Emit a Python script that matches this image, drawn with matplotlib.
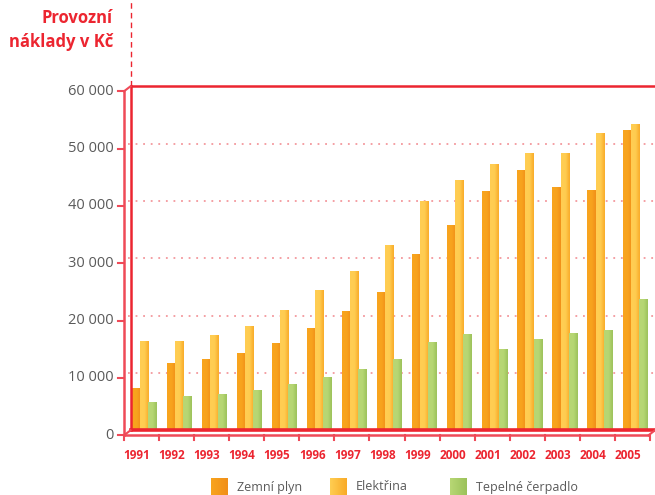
#!/usr/bin/env python3
"""Provozní náklady v Kč - pseudo 3D grouped bar chart."""

import matplotlib

matplotlib.use("Agg")
import matplotlib.pyplot as plt
import numpy as np
from matplotlib.colors import LinearSegmentedColormap
from matplotlib.lines import Line2D
from matplotlib.transforms import ScaledTranslation

years = [str(y) for y in range(1991, 2006)]
zemni_plyn = [7200, 11600, 12300, 13300, 15100, 17700, 20600, 24000, 30600,
              35600, 41600, 45200, 42300, 41700, 52200]
elektrina = [15400, 15400, 16500, 18000, 20800, 24300, 27600, 32200, 39800,
             43500, 46300, 48200, 48200, 51700, 53300]
tepelne = [4800, 5800, 6200, 6900, 7900, 9100, 10500, 12300, 15200,
           16600, 14000, 15800, 16800, 17300, 22700]
y_ticks = [0, 10000, 20000, 30000, 40000, 50000, 60000]
series_names = ["Zemní plyn", "Elektřina", "Tepelné čerpadlo"]

RED = "#ec2530"
FRONT_RED = "#ef4a58"
GRID = "#f3979c"
TEXT_GRAY = "#5a5a5a"
GRADIENTS = [
    ("#f8a41e", "#f18f19"),
    ("#ffcd52", "#f9ab28"),
    ("#b7d774", "#9cc25b"),
]

plt.rcParams["font.family"] = ["Open Sans", "DejaVu Sans"]

fig = plt.figure(figsize=(6.55, 4.95), dpi=100)
W, H = 655, 495
# back wall of the pseudo 3D box, in pixels
left_px, right_px, bottom_px, top_px = 130.5, 655, 430.3, 86.3
ax = fig.add_axes([left_px / W, 1 - bottom_px / H,
                   (right_px - left_px) / W, (bottom_px - top_px) / H])
ax.set_axis_off()

group_px = 35.07
xl = (left_px - 144) / group_px
xr = xl + (right_px - left_px) / group_px
ax.set_xlim(xl, xr)
ax.set_ylim(0, 60000)
ux = 1 / group_px                       # data x per pixel
uy = 60000 / (bottom_px - top_px)       # data y per pixel

# front plane is shifted left/down
front = ax.transData + ScaledTranslation(-0.065, -0.05, fig.dpi_scale_trans)


def grad_bar(x, h, w, c1, c2):
    cmap = LinearSegmentedColormap.from_list("g", [c1, c1, c2])
    grad = np.linspace(0, 1, 64).reshape(1, -1)
    ax.imshow(grad, cmap=cmap, aspect="auto", interpolation="bicubic",
              extent=[x - w / 2, x + w / 2, 0, h], zorder=3)


# gridlines
for v in y_ticks[1:-1]:
    ax.plot([xl - 3 * ux, xr], [v, v], color=GRID, lw=1.3, ls=(0, (1, 3.2)),
            zorder=1, clip_on=False)

# bars
x = np.arange(len(years))
width = 0.245
offsets = [-0.232, 0.0, 0.232]
for vals, off, (c1, c2) in zip([zemni_plyn, elektrina, tepelne], offsets, GRADIENTS):
    for xi, v in zip(x, vals):
        grad_bar(xi + off, v, width, c1, c2)
ax.set_xlim(xl, xr)
ax.set_ylim(0, 60000)

# back wall
ax.plot([xl, xr], [60000, 60000], color=RED, lw=1.8, clip_on=False, zorder=4)
ax.plot([xl, xl], [0, 60000], color=RED, lw=1.8, clip_on=False, zorder=4)
ax.plot([xl, xr], [0, 0], color=RED, lw=2.6, clip_on=False, zorder=4)
ax.plot([xl, xl], [60000, 60000 + top_px * uy], color=RED, lw=1.0,
        ls=(0, (4, 3)), clip_on=False, zorder=4)

# front axis
ax.plot([xl, xl], [0, 60000], color=FRONT_RED, lw=1.8, transform=front,
        clip_on=False, zorder=5)
ax.plot([xl, xr], [0, 0], color=FRONT_RED, lw=1.8, transform=front,
        clip_on=False, zorder=5)
for v in y_ticks:
    ax.plot([xl - 6 * ux, xl], [v, v], color=FRONT_RED, lw=1.5, transform=front,
            clip_on=False, zorder=5)
    label = f"{v:,}".replace(",", " ")
    ax.text(xl - 10 * ux, v, label, transform=front, ha="right", va="center",
            fontsize=10.5, color=TEXT_GRAY, clip_on=False)
for k in range(len(years) + 1):
    ax.plot([xl + k, xl + k], [0, -5 * uy], color=FRONT_RED, lw=1.5,
            transform=front, clip_on=False, zorder=5)
for xi, yr in zip(x, years):
    ax.text(xi - 0.02, -20 * uy, yr, transform=front, ha="center", va="center",
            fontsize=8.5, fontweight="bold", color=RED, clip_on=False)

# diagonals joining front and back planes
for xa, ya in [(xl, 60000), (xl, 0), (xr, 0)]:
    p_front = front.transform((xa, ya))
    p_back = ax.transData.transform((xa, ya))
    fig.add_artist(Line2D([p_front[0], p_back[0]], [p_front[1], p_back[1]],
                          transform=None, color=FRONT_RED, lw=1.5))

# title
fig.text(113 / W, 1 - 30 / H, "Provozní\nnáklady v Kč", ha="right", va="center",
         fontsize=12, fontweight="bold", color=RED, linespacing=1.45)

# legend
legend_x = [211, 330, 450]
for name, lx, (c1, c2) in zip(series_names, legend_x, GRADIENTS):
    lax = fig.add_axes([lx / W, 0, 17 / W, 17 / H])
    lax.set_axis_off()
    cmap = LinearSegmentedColormap.from_list("g", [c1, c2])
    lax.imshow(np.linspace(0, 1, 32).reshape(1, -1), cmap=cmap, aspect="auto",
               extent=[0, 1, 0, 1])
    fig.text((lx + 26) / W, 1 - 487 / H, name, ha="left", va="center",
             fontsize=9, color=TEXT_GRAY)

fig.savefig("out.png", dpi=100)
